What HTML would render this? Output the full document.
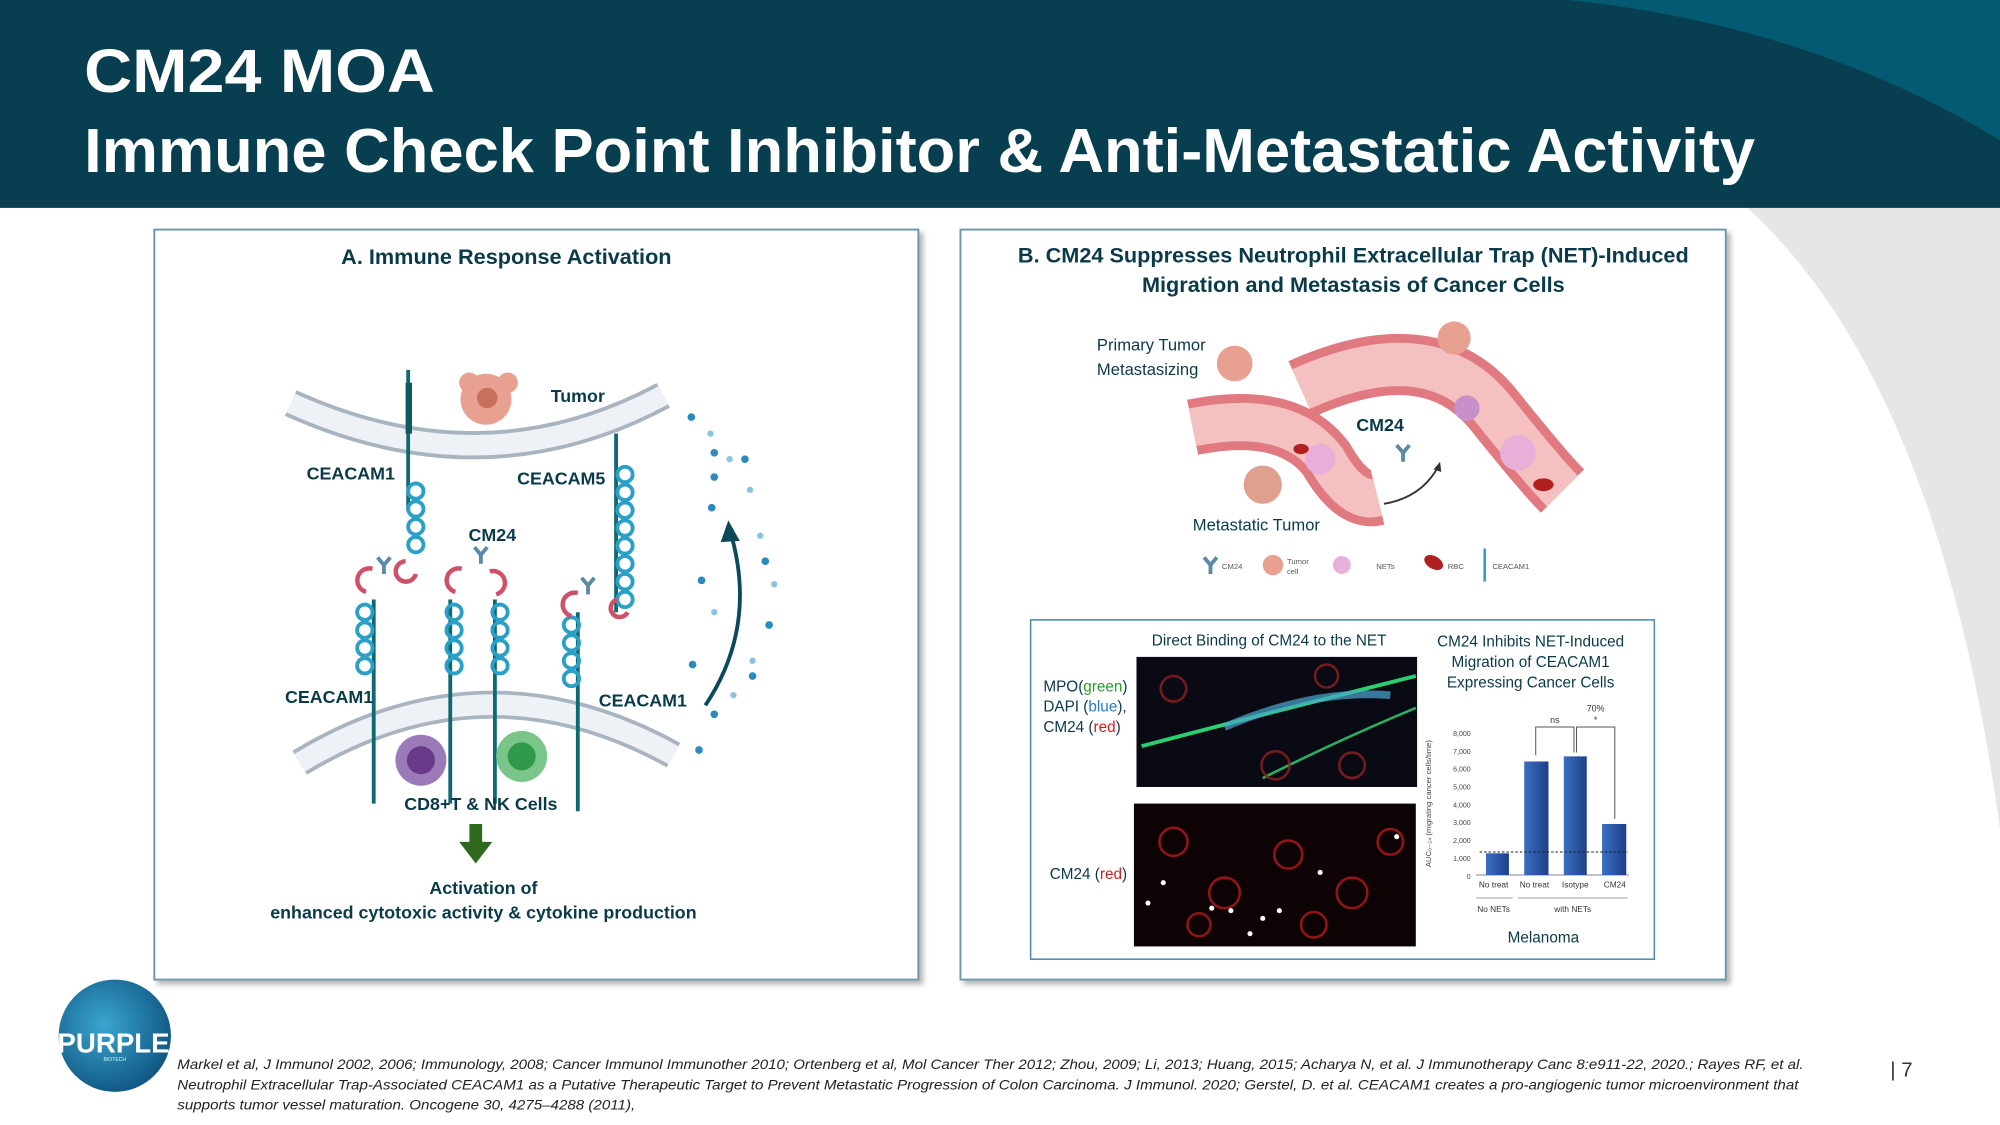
<!DOCTYPE html>
<html><head><meta charset="utf-8"><style>
html,body{margin:0;padding:0;background:#fff}
svg{display:block}
text{font-family:"Liberation Sans",sans-serif}
</style></head><body>
<svg width="2000" height="1125" viewBox="0 0 1568 882" xmlns="http://www.w3.org/2000/svg">
<defs>
<filter id="sh" x="-5%" y="-5%" width="110%" height="110%"><feDropShadow dx="3" dy="3" stdDeviation="2" flood-color="#000" flood-opacity="0.3"/></filter>
<radialGradient id="logo" cx="0.4" cy="0.4" r="0.7"><stop offset="0" stop-color="#3aa6d0"/><stop offset="1" stop-color="#0b4f7a"/></radialGradient>
<linearGradient id="bar" x1="0" x2="1"><stop offset="0" stop-color="#3b6fc0"/><stop offset="1" stop-color="#1e3f8a"/></linearGradient>
<g id="chain">
 <circle cx="0" cy="0" r="6" fill="none" stroke="#2aa0c8" stroke-width="3"/>
 <circle cx="0" cy="14" r="6" fill="none" stroke="#2aa0c8" stroke-width="3"/>
 <circle cx="0" cy="28" r="6" fill="none" stroke="#2aa0c8" stroke-width="3"/>
 <circle cx="0" cy="42" r="6" fill="none" stroke="#2aa0c8" stroke-width="3"/>
</g>
<g id="ab"><path d="M0 10 L0 3 L-5 -3 M0 3 L5 -3" stroke="#5a8aa8" stroke-width="3" fill="none"/></g>
</defs>

<path d="M1370 163 Q1520 300 1568 650 L1568 163 Z" fill="#e6e6e6"/>
<rect x="0" y="0" width="1568" height="163" fill="#073f50"/>
<path d="M1230 0 Q1420 20 1568 110 L1568 0 Z" fill="#045a72"/>
<text x="66" y="72" font-size="48" font-weight="bold" fill="#fff" textLength="275" lengthAdjust="spacingAndGlyphs">CM24 MOA</text>
<text x="66" y="135" font-size="49" font-weight="bold" fill="#fff" textLength="1310" lengthAdjust="spacingAndGlyphs">Immune Check Point Inhibitor &amp; Anti-Metastatic Activity</text>

<!-- Panel A -->
<rect x="121" y="180" width="599" height="588" fill="#fff" stroke="#6a98aa" stroke-width="1.5" filter="url(#sh)"/>
<text x="397" y="207" font-size="17" font-weight="bold" fill="#0a3a4a" text-anchor="middle">A. Immune Response Activation</text>
<path d="M228 316 Q380 385 520 310" fill="none" stroke="#a8b4c0" stroke-width="22"/>
<path d="M228 316 Q380 385 520 310" fill="none" stroke="#eef2f6" stroke-width="16"/>
<path d="M235 598 Q380 510 528 592" fill="none" stroke="#a8b4c0" stroke-width="22"/>
<path d="M235 598 Q380 510 528 592" fill="none" stroke="#eef2f6" stroke-width="16"/>
<circle cx="381" cy="313" r="20" fill="#e8a090"/><circle cx="368" cy="300" r="8" fill="#e8a090"/><circle cx="398" cy="300" r="8" fill="#e8a090"/><circle cx="382" cy="312" r="8" fill="#c8705e"/>
<text x="453" y="315" font-size="14" font-weight="bold" fill="#0a3a4a" text-anchor="middle">Tumor</text>
<line x1="320" y1="290" x2="320" y2="400" stroke="#0e6a70" stroke-width="3"/>
<rect x="318" y="300" width="5" height="40" fill="#0e5a60"/>
<use href="#chain" x="326" y="385"/>
<path d="M318 440 a8 8 0 1 0 8 10" stroke="#d0506a" stroke-width="3.5" fill="none"/>
<line x1="483" y1="340" x2="483" y2="480" stroke="#0e6a70" stroke-width="3"/>
<use href="#chain" x="490" y="372"/><use href="#chain" x="490" y="428"/>
<path d="M484 470 a7 7 0 1 0 8 10" stroke="#d0506a" stroke-width="3.5" fill="none"/>
<g stroke="#0e6a70" stroke-width="3"><line x1="293" y1="470" x2="293" y2="630"/><line x1="353" y1="470" x2="353" y2="630"/><line x1="388" y1="470" x2="388" y2="630"/><line x1="453" y1="480" x2="453" y2="636"/></g>
<use href="#chain" x="286" y="480"/><use href="#chain" x="356" y="480"/><use href="#chain" x="392" y="480"/><use href="#chain" x="448" y="490"/>
<g stroke="#d0506a" stroke-width="3.5" fill="none">
<path d="M292 446 a8 8 0 1 0 -5 18"/><path d="M362 446 a8 8 0 1 0 -5 18"/><path d="M384 448 a8 8 0 1 1 5 18"/><path d="M453 465 a8 8 0 1 0 -5 18"/></g>
<use href="#ab" x="301" y="440"/><use href="#ab" x="377" y="432"/><use href="#ab" x="461" y="456"/>
<text x="275" y="376" font-size="14" font-weight="bold" fill="#0a3a4a" text-anchor="middle">CEACAM1</text>
<text x="440" y="380" font-size="14" font-weight="bold" fill="#0a3a4a" text-anchor="middle">CEACAM5</text>
<text x="386" y="424" font-size="14" font-weight="bold" fill="#0a3a4a" text-anchor="middle">CM24</text>
<text x="258" y="551" font-size="14" font-weight="bold" fill="#0a3a4a" text-anchor="middle">CEACAM1</text>
<text x="504" y="554" font-size="14" font-weight="bold" fill="#0a3a4a" text-anchor="middle">CEACAM1</text>
<circle cx="330" cy="596" r="20" fill="#9a7ab8"/><circle cx="330" cy="596" r="11" fill="#6a3a8a"/>
<circle cx="409" cy="593" r="20" fill="#7ac68a"/><circle cx="409" cy="593" r="11" fill="#2e9a4a"/>
<text x="377" y="635" font-size="14" font-weight="bold" fill="#0a3a4a" text-anchor="middle">CD8+T &amp; NK Cells</text>
<path d="M368 646 h10 v14 h8 l-13 17 l-13 -17 h8 z" fill="#2e6a1e"/>
<text x="379" y="701" font-size="14" font-weight="bold" fill="#0a3a4a" text-anchor="middle">Activation of</text>
<text x="379" y="720" font-size="14" font-weight="bold" fill="#0a3a4a" text-anchor="middle">enhanced cytotoxic activity &amp; cytokine production</text>
<g fill="#2a8ac0">
<circle cx="542" cy="327" r="3"/><circle cx="557" cy="340" r="2.5" fill="#8ac4e0"/><circle cx="560" cy="355" r="3"/><circle cx="572" cy="360" r="2.5" fill="#8ac4e0"/><circle cx="584" cy="360" r="3"/><circle cx="560" cy="374" r="3"/><circle cx="588" cy="384" r="2.5" fill="#8ac4e0"/><circle cx="558" cy="398" r="3"/><circle cx="596" cy="420" r="2.5" fill="#8ac4e0"/><circle cx="600" cy="440" r="3"/><circle cx="607" cy="458" r="2.5" fill="#8ac4e0"/><circle cx="550" cy="455" r="3"/><circle cx="603" cy="490" r="3"/><circle cx="560" cy="480" r="2.5" fill="#8ac4e0"/><circle cx="590" cy="530" r="3"/><circle cx="543" cy="521" r="3"/><circle cx="575" cy="545" r="2.5" fill="#8ac4e0"/><circle cx="560" cy="560" r="3"/><circle cx="548" cy="588" r="3"/><circle cx="590" cy="518" r="2.5" fill="#8ac4e0"/></g>
<path d="M553 553 Q595 490 572 415" fill="none" stroke="#0a4a5a" stroke-width="3"/>
<path d="M565 425 L571 408 L580 424 Z" fill="#0a4a5a"/>

<!-- Panel B -->
<rect x="753" y="180" width="600" height="588" fill="#fff" stroke="#6a98aa" stroke-width="1.5" filter="url(#sh)"/>
<text x="1061" y="206" font-size="17" font-weight="bold" fill="#0a3a4a" text-anchor="middle">B. CM24 Suppresses Neutrophil Extracellular Trap (NET)-Induced</text>
<text x="1061" y="229" font-size="17" font-weight="bold" fill="#0a3a4a" text-anchor="middle">Migration and Metastasis of Cancer Cells</text>
<text x="860" y="275" font-size="13" fill="#0a3a4a">Primary Tumor</text>
<text x="860" y="294" font-size="13" fill="#0a3a4a">Metastasizing</text>
<path d="M935 335 Q1010 320 1040 360 Q1060 395 1080 390" fill="none" stroke="#e07a80" stroke-width="44"/>
<path d="M935 335 Q1010 320 1040 360 Q1060 395 1080 390" fill="none" stroke="#f4c0c0" stroke-width="30"/>
<path d="M1020 305 Q1120 260 1170 320 Q1210 370 1225 385" fill="none" stroke="#e07a80" stroke-width="48"/>
<path d="M1020 305 Q1120 260 1170 320 Q1210 370 1225 385" fill="none" stroke="#f4c0c0" stroke-width="34"/>
<circle cx="1035" cy="360" r="12" fill="#e8b0d8"/><circle cx="1190" cy="355" r="14" fill="#e8b0d8"/><circle cx="1150" cy="320" r="10" fill="#c890c8"/>
<ellipse cx="1210" cy="380" rx="8" ry="5" fill="#b02020"/><ellipse cx="1020" cy="352" rx="6" ry="4" fill="#b02020"/>
<circle cx="968" cy="285" r="14" fill="#e8a090"/><circle cx="1140" cy="265" r="13" fill="#e8a090"/><circle cx="990" cy="380" r="15" fill="#e0a090"/>
<path d="M1085 395 Q1115 390 1128 365" fill="none" stroke="#333" stroke-width="1.5"/><path d="M1124 368 l5 -6 l1 8 z" fill="#333"/>
<use href="#ab" x="1100" y="352"/>
<text x="1082" y="338" font-size="14" font-weight="bold" fill="#0a3a4a" text-anchor="middle">CM24</text>
<text x="985" y="416" font-size="13" fill="#0a3a4a" text-anchor="middle">Metastatic Tumor</text>
<use href="#ab" x="949" y="440"/><text x="958" y="446" font-size="6" fill="#555">CM24</text>
<circle cx="998" cy="443" r="8" fill="#e8a090"/><text x="1009" y="442" font-size="6" fill="#555">Tumor</text><text x="1009" y="450" font-size="6" fill="#555">cell</text>
<circle cx="1052" cy="443" r="7" fill="#e8b0d8"/><text x="1079" y="446" font-size="6" fill="#555">NETs</text>
<ellipse cx="1124" cy="441" rx="8" ry="5" fill="#b02020" transform="rotate(30 1124 441)"/><text x="1135" y="446" font-size="6" fill="#555">RBC</text>
<line x1="1164" y1="430" x2="1164" y2="456" stroke="#2aa0c8" stroke-width="2"/><text x="1170" y="446" font-size="6" fill="#555">CEACAM1</text>
<rect x="808" y="486" width="489" height="266" fill="#fff" stroke="#4a8aa8" stroke-width="1.2"/>
<text x="995" y="506" font-size="12" fill="#0a3a4a" text-anchor="middle">Direct Binding of CM24 to the NET</text>
<text x="1200" y="507" font-size="12" fill="#0a3a4a" text-anchor="middle">CM24 Inhibits NET-Induced</text>
<text x="1200" y="523" font-size="12" fill="#0a3a4a" text-anchor="middle">Migration of CEACAM1</text>
<text x="1200" y="539" font-size="12" fill="#0a3a4a" text-anchor="middle">Expressing Cancer Cells</text>
<text x="818" y="542" font-size="12" fill="#0a3a4a">MPO(<tspan fill="#2a9a2a">green</tspan>)</text>
<text x="818" y="558" font-size="12" fill="#0a3a4a">DAPI (<tspan fill="#2a7ac0">blue</tspan>),</text>
<text x="818" y="574" font-size="12" fill="#0a3a4a">CM24 (<tspan fill="#d02020">red</tspan>)</text>
<text x="823" y="689" font-size="12" fill="#0a3a4a">CM24 (<tspan fill="#d02020">red</tspan>)</text>
<rect x="891" y="515" width="220" height="102" fill="#0a0a14"/>
<path d="M895 585 Q990 560 1110 530" stroke="#2ad070" stroke-width="3" fill="none"/>
<path d="M960 570 Q1030 540 1090 545" stroke="#4aa8d0" stroke-width="6" fill="none" opacity="0.7"/>
<path d="M990 610 Q1050 580 1110 555" stroke="#2ab060" stroke-width="2" fill="none"/>
<g fill="none" stroke="#902020" stroke-width="2" opacity="0.8"><circle cx="920" cy="540" r="10"/><circle cx="1000" cy="600" r="11"/><circle cx="1060" cy="600" r="10"/><circle cx="1040" cy="530" r="9"/></g>
<rect x="889" y="630" width="221" height="112" fill="#0d0204"/>
<g fill="none" stroke="#a01818" stroke-width="2" opacity="0.9"><circle cx="920" cy="660" r="11"/><circle cx="960" cy="700" r="12"/><circle cx="1010" cy="670" r="11"/><circle cx="1060" cy="700" r="12"/><circle cx="1090" cy="660" r="10"/><circle cx="940" cy="725" r="9"/><circle cx="1030" cy="725" r="10"/></g>
<g fill="#fff"><circle cx="912" cy="692" r="2"/><circle cx="900" cy="708" r="2"/><circle cx="950" cy="712" r="2"/><circle cx="965" cy="714" r="2"/><circle cx="990" cy="720" r="2"/><circle cx="1003" cy="714" r="2"/><circle cx="1035" cy="684" r="2"/><circle cx="1095" cy="656" r="2"/><circle cx="980" cy="732" r="2"/></g>
<text x="1122" y="630" font-size="6" fill="#444" transform="rotate(-90 1122 630)" text-anchor="middle">AUC₀₋₂₄ (migrating cancer cells/time)</text>
<g font-size="5.5" fill="#444" text-anchor="end"><text x="1153" y="577">8,000</text><text x="1153" y="591">7,000</text><text x="1153" y="605">6,000</text><text x="1153" y="619">5,000</text><text x="1153" y="633">4,000</text><text x="1153" y="647">3,000</text><text x="1153" y="661">2,000</text><text x="1153" y="675">1,000</text><text x="1153" y="689">0</text></g>
<line x1="1157" y1="686" x2="1277" y2="686" stroke="#888" stroke-width="0.8"/>
<rect x="1165" y="669" width="18" height="17" fill="url(#bar)"/>
<rect x="1195" y="597" width="19" height="89" fill="url(#bar)"/>
<rect x="1226" y="593" width="18" height="93" fill="url(#bar)"/>
<rect x="1256" y="646" width="19" height="40" fill="url(#bar)"/>
<line x1="1160" y1="668" x2="1276" y2="668" stroke="#222" stroke-width="0.8" stroke-dasharray="2,1.5"/>
<path d="M1204 592 V570 H1234 V590 M1236 590 V570 H1266 V642" fill="none" stroke="#555" stroke-width="0.8"/>
<text x="1219" y="567" font-size="7" fill="#333" text-anchor="middle">ns</text>
<text x="1251" y="558" font-size="7" fill="#333" text-anchor="middle">70%</text>
<text x="1251" y="567" font-size="7" fill="#333" text-anchor="middle">*</text>
<g font-size="6.5" fill="#333" text-anchor="middle"><text x="1171" y="696">No treat</text><text x="1203" y="696">No treat</text><text x="1235" y="696">Isotype</text><text x="1266" y="696">CM24</text><text x="1171" y="715">No NETs</text><text x="1233" y="715">with NETs</text></g>
<line x1="1157" y1="704" x2="1186" y2="704" stroke="#888" stroke-width="0.6"/><line x1="1190" y1="704" x2="1276" y2="704" stroke="#888" stroke-width="0.6"/>
<text x="1210" y="739" font-size="12" fill="#0a3a4a" text-anchor="middle">Melanoma</text>

<circle cx="90" cy="812" r="44" fill="url(#logo)"/>
<text x="45" y="825" font-size="22" font-weight="bold" fill="#fff" textLength="88" lengthAdjust="spacingAndGlyphs">PURPLE</text>
<text x="90" y="832" font-size="4" fill="#cfe" text-anchor="middle">BIOTECH</text>
<g font-size="10.8" font-style="italic" fill="#222">
<text x="139" y="838" textLength="1275" lengthAdjust="spacingAndGlyphs">Markel et al, J Immunol 2002, 2006; Immunology, 2008; Cancer Immunol Immunother 2010; Ortenberg et al, Mol Cancer Ther 2012; Zhou, 2009; Li, 2013; Huang, 2015; Acharya N, et al.  J Immunotherapy Canc 8:e911-22, 2020.; Rayes RF, et al.</text>
<text x="139" y="854" textLength="1271" lengthAdjust="spacingAndGlyphs">Neutrophil Extracellular Trap-Associated CEACAM1 as a Putative Therapeutic Target to Prevent Metastatic Progression of Colon Carcinoma. J Immunol. 2020; Gerstel, D. et al. CEACAM1 creates a pro-angiogenic tumor microenvironment that</text>
<text x="139" y="870" textLength="359" lengthAdjust="spacingAndGlyphs">supports tumor vessel maturation. Oncogene 30, 4275–4288 (2011),</text>
</g>
<text x="1482" y="844" font-size="16" fill="#333">| 7</text>
</svg>
</body></html>
